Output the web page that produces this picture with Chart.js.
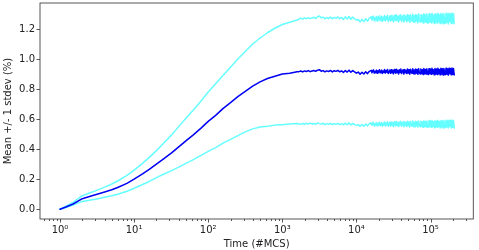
<!DOCTYPE html>
<html>
<head>
<meta charset="utf-8">
<script src="https://cdn.jsdelivr.net/npm/chart.js@4"></script>
<style>
html, body { margin: 0; padding: 0; background: #fff; }
</style>
</head>
<body>
<canvas id="c" width="479" height="250"></canvas>
<script>
// time in Monte Carlo steps
const mcs = [
    1, 1.2, 1.5, 2, 2.5, 3, 4, 5, 6, 8,
    10, 13, 16, 20, 25, 32, 40, 50, 63, 80,
    100, 126, 158, 200, 251, 316, 398, 501, 631, 794,
    1000, 1259, 1585,
    1679, 1778, 1884, 1995, 2113, 2239, 2371, 2512, 2661, 2818,
    2985, 3162, 3350, 3548, 3758, 3981, 4217, 4467, 4732, 5012,
    5309, 5623, 5957, 6310, 6683, 7079, 7499, 7943, 8414, 8913,
    9441, 10000, 10593, 11220, 11885, 12589, 13335, 14125, 14962,
    15849, 16218, 16596, 16982, 17378, 17783, 18197, 18621, 19055, 19498,
    19953, 20417, 20893, 21380, 21878, 22387, 22909, 23442, 23988, 24547,
    25119, 25704, 26303, 26915, 27542, 28184, 28840, 29512, 30200, 30903,
    31623, 32359, 33113, 33884, 34674, 35481, 36308, 37154, 38019, 38905,
    39811, 40738, 41687, 42658, 43652, 44668, 45709, 46774, 47863, 48978,
    50119, 51286, 52481, 53703, 54954, 56234, 57544, 58884, 60256, 61660,
    63096, 64565, 66069, 67608, 69183, 70795, 72444, 74131, 75858, 77625,
    79433, 81283, 83176, 85114, 87096, 89125, 91201, 93325, 95499, 97724,
    100000, 102329, 104713, 107152, 109648, 112202, 114815, 117490, 120226, 123027,
    125893, 128825, 131826, 134896, 138038, 141254, 144544, 147911, 151356, 154882,
    158489, 162181, 165959, 169824, 173780, 177828, 181970, 186209, 190546, 194984,
    199526, 204174, 208930
];

const mean = [
    0, 0.015, 0.035, 0.07, 0.085, 0.097, 0.115, 0.13, 0.145, 0.172,
    0.2, 0.235, 0.265, 0.3, 0.335, 0.375, 0.415, 0.455, 0.495, 0.54,
    0.585, 0.625, 0.67, 0.71, 0.75, 0.785, 0.82, 0.848, 0.87, 0.885,
    0.9, 0.906, 0.915,
    0.916, 0.92, 0.914, 0.921, 0.917, 0.923, 0.916, 0.92, 0.924, 0.918,
    0.926, 0.929, 0.919, 0.923, 0.915, 0.921, 0.917, 0.924, 0.914, 0.922,
    0.918, 0.925, 0.915, 0.921, 0.911, 0.924, 0.913, 0.926, 0.912, 0.923,
    0.914, 0.906, 0.913, 0.899, 0.912, 0.9, 0.915, 0.903, 0.918,
    0.924, 0.909, 0.921, 0.928, 0.907, 0.919, 0.911, 0.926, 0.905, 0.922,
    0.913, 0.929, 0.908, 0.918, 0.926, 0.904, 0.921, 0.91, 0.93, 0.906,
    0.924, 0.912, 0.931, 0.903, 0.919, 0.927, 0.905, 0.929, 0.909, 0.923,
    0.902, 0.93, 0.914, 0.906, 0.932, 0.908, 0.925, 0.901, 0.929, 0.911,
    0.933, 0.904, 0.92, 0.928, 0.9, 0.931, 0.909, 0.926, 0.903, 0.934,
    0.907, 0.929, 0.899, 0.932, 0.912, 0.905, 0.935, 0.902, 0.927, 0.9,
    0.933, 0.906, 0.93, 0.898, 0.936, 0.91, 0.901, 0.934, 0.904, 0.929,
    0.897, 0.937, 0.903, 0.931, 0.9, 0.935, 0.908, 0.896, 0.936, 0.902,
    0.932, 0.898, 0.938, 0.905, 0.929, 0.895, 0.937, 0.901, 0.934, 0.897,
    0.939, 0.903, 0.93, 0.895, 0.938, 0.9, 0.935, 0.894, 0.937, 0.906,
    0.896, 0.939, 0.899, 0.934, 0.893, 0.938, 0.902, 0.936, 0.895, 0.94,
    0.898, 0.937, 0.894
];

const upper = [
    0, 0.02, 0.045, 0.09, 0.108, 0.122, 0.147, 0.168, 0.188, 0.225,
    0.26, 0.305, 0.345, 0.39, 0.44, 0.495, 0.55, 0.605, 0.66, 0.72,
    0.78, 0.835, 0.89, 0.945, 1.0, 1.05, 1.1, 1.14, 1.175, 1.205,
    1.23, 1.245, 1.26,
    1.265, 1.272, 1.266, 1.274, 1.268, 1.276, 1.269, 1.273, 1.278, 1.27,
    1.281, 1.286, 1.274, 1.279, 1.268, 1.276, 1.27, 1.279, 1.268, 1.277,
    1.271, 1.28, 1.269, 1.277, 1.264, 1.281, 1.266, 1.283, 1.265, 1.279,
    1.267, 1.26, 1.263, 1.247, 1.264, 1.249, 1.268, 1.253, 1.272,
    1.281, 1.259, 1.277, 1.286, 1.255, 1.273, 1.262, 1.284, 1.253, 1.279,
    1.264, 1.288, 1.256, 1.271, 1.285, 1.251, 1.278, 1.26, 1.29, 1.254,
    1.282, 1.263, 1.292, 1.25, 1.274, 1.287, 1.253, 1.29, 1.258, 1.28,
    1.248, 1.291, 1.266, 1.255, 1.294, 1.257, 1.284, 1.247, 1.29, 1.262,
    1.295, 1.251, 1.276, 1.289, 1.245, 1.293, 1.259, 1.286, 1.249, 1.297,
    1.255, 1.29, 1.244, 1.295, 1.263, 1.252, 1.298, 1.247, 1.288, 1.243,
    1.296, 1.254, 1.292, 1.241, 1.3, 1.26, 1.246, 1.297, 1.25, 1.291,
    1.24, 1.301, 1.249, 1.294, 1.244, 1.299, 1.256, 1.238, 1.302, 1.247,
    1.296, 1.241, 1.303, 1.252, 1.292, 1.237, 1.301, 1.246, 1.298, 1.24,
    1.304, 1.25, 1.294, 1.236, 1.303, 1.244, 1.299, 1.235, 1.302, 1.254,
    1.238, 1.305, 1.243, 1.298, 1.234, 1.303, 1.248, 1.3, 1.236, 1.306,
    1.242, 1.302, 1.235
];

const lower = [
    0, 0.012, 0.028, 0.052, 0.06, 0.067, 0.08, 0.09, 0.1, 0.12,
    0.14, 0.165, 0.185, 0.21, 0.233, 0.257, 0.28, 0.305, 0.33, 0.358,
    0.385, 0.41, 0.44, 0.465, 0.49, 0.515, 0.535, 0.548, 0.553, 0.56,
    0.563, 0.567, 0.57,
    0.569, 0.565, 0.571, 0.566, 0.572, 0.567, 0.573, 0.568, 0.571, 0.566,
    0.574, 0.57, 0.567, 0.572, 0.564, 0.57, 0.566, 0.572, 0.563, 0.569,
    0.565, 0.571, 0.563, 0.57, 0.562, 0.573, 0.563, 0.575, 0.561, 0.572,
    0.563, 0.558, 0.563, 0.552, 0.564, 0.553, 0.567, 0.555, 0.569,
    0.574, 0.559, 0.571, 0.578, 0.556, 0.569, 0.561, 0.576, 0.555, 0.572,
    0.562, 0.579, 0.557, 0.568, 0.577, 0.553, 0.573, 0.56, 0.581, 0.555,
    0.575, 0.561, 0.582, 0.552, 0.57, 0.579, 0.554, 0.581, 0.558, 0.574,
    0.551, 0.582, 0.564, 0.555, 0.584, 0.557, 0.577, 0.55, 0.581, 0.561,
    0.585, 0.553, 0.571, 0.58, 0.549, 0.583, 0.558, 0.578, 0.551, 0.586,
    0.556, 0.581, 0.548, 0.585, 0.562, 0.554, 0.587, 0.55, 0.579, 0.547,
    0.586, 0.555, 0.583, 0.546, 0.588, 0.559, 0.549, 0.586, 0.552, 0.582,
    0.545, 0.589, 0.551, 0.584, 0.548, 0.588, 0.556, 0.544, 0.59, 0.55,
    0.585, 0.546, 0.591, 0.553, 0.583, 0.543, 0.589, 0.549, 0.587, 0.545,
    0.592, 0.552, 0.584, 0.542, 0.591, 0.548, 0.588, 0.541, 0.59, 0.555,
    0.544, 0.593, 0.547, 0.587, 0.541, 0.592, 0.551, 0.589, 0.542, 0.594,
    0.546, 0.59, 0.541
];

const yTicks = [0, 0.2, 0.4, 0.6, 0.8, 1.0, 1.2];
const decadeLabels = ['10⁰', '10¹', '10²', '10³', '10⁴', '10⁵'];

const FONT = { family: 'DejaVu Sans', size: 10 };

function series(vals) {
    return mcs.map((t, i) => ({ x: t, y: vals[i] }));
}

function isDecade(v) {
    const l = Math.log10(v);
    return Math.abs(l - Math.round(l)) < 1e-9;
}

// frame + matplotlib-style tick marks
const frameAndTicks = {
    id: 'frameAndTicks',
    afterDraw(chart) {
        const { ctx, chartArea: a, scales } = chart;
        ctx.save();
        ctx.strokeStyle = '#444';
        ctx.lineWidth = 0.9;
        ctx.strokeRect(a.left, a.top, a.right - a.left, a.bottom - a.top);
        ctx.beginPath();
        scales.x.ticks.forEach(t => {
            const px = Math.round(scales.x.getPixelForValue(t.value)) + 0.5;
            const len = isDecade(t.value) ? 3.5 : 2;
            ctx.moveTo(px, a.bottom);
            ctx.lineTo(px, a.bottom + len);
        });
        scales.y.ticks.forEach(t => {
            const py = Math.round(scales.y.getPixelForValue(t.value)) + 0.5;
            ctx.moveTo(a.left, py);
            ctx.lineTo(a.left - 3.5, py);
        });
        ctx.stroke();
        ctx.restore();
    }
};

const lineStyle = { borderWidth: 1.5, borderJoinStyle: 'round', borderCapStyle: 'round' };

new Chart(document.getElementById('c'), {
    type: 'line',
    data: {
        datasets: [
            { label: 'mean', data: series(mean), borderColor: 'rgb(0,0,245)', ...lineStyle },
            { label: '+1 stdev', data: series(upper), borderColor: 'rgba(0,255,255,0.6)', ...lineStyle },
            { label: '-1 stdev', data: series(lower), borderColor: 'rgba(0,255,255,0.6)', ...lineStyle }
        ]
    },
    options: {
        responsive: false,
        animation: false,
        layout: { padding: { left: 0, right: 5.7, top: 3, bottom: 0 } },
        elements: { point: { radius: 0 }, line: { tension: 0 } },
        plugins: { legend: { display: false }, tooltip: { enabled: false } },
        scales: {
            x: {
                type: 'logarithmic',
                min: 0.537,
                max: 378000,
                grid: { display: false, drawTicks: false },
                border: { display: false },
                afterBuildTicks(scale) {
                    const ticks = [];
                    for (let e = -1; e <= 5; e++) {
                        for (let m = 1; m <= 9; m++) {
                            const v = m * Math.pow(10, e);
                            if (v >= scale.min && v <= scale.max) ticks.push({ value: v });
                        }
                    }
                    scale.ticks = ticks;
                },
                afterFit(scale) {
                    scale.height = 31;
                    scale.paddingLeft = 0;
                    scale.paddingRight = 0;
                },
                ticks: {
                    autoSkip: false,
                    maxRotation: 0,
                    padding: 5,
                    color: '#222',
                    font: FONT,
                    callback(v) {
                        if (!isDecade(v)) return '';
                        return decadeLabels[Math.round(Math.log10(v))] || '';
                    }
                },
                title: { display: true, text: 'Time (#MCS)', color: '#222', font: FONT, padding: { top: 0, bottom: 0 } }
            },
            y: {
                min: -0.065,
                max: 1.373,
                grid: { display: false, drawTicks: false },
                border: { display: false },
                afterBuildTicks(scale) {
                    scale.ticks = yTicks.map(v => ({ value: v }));
                },
                afterFit(scale) {
                    scale.width = 40;
                    scale.paddingTop = 0;
                    scale.paddingBottom = 0;
                },
                ticks: {
                    padding: 5,
                    color: '#222',
                    font: FONT,
                    callback(v) { return v.toFixed(1); }
                },
                title: { display: true, text: 'Mean +/- 1 stdev (%)', color: '#222', font: FONT, padding: { top: 2, bottom: 0 } }
            }
        }
    },
    plugins: [frameAndTicks]
});
</script>
</body>
</html>
